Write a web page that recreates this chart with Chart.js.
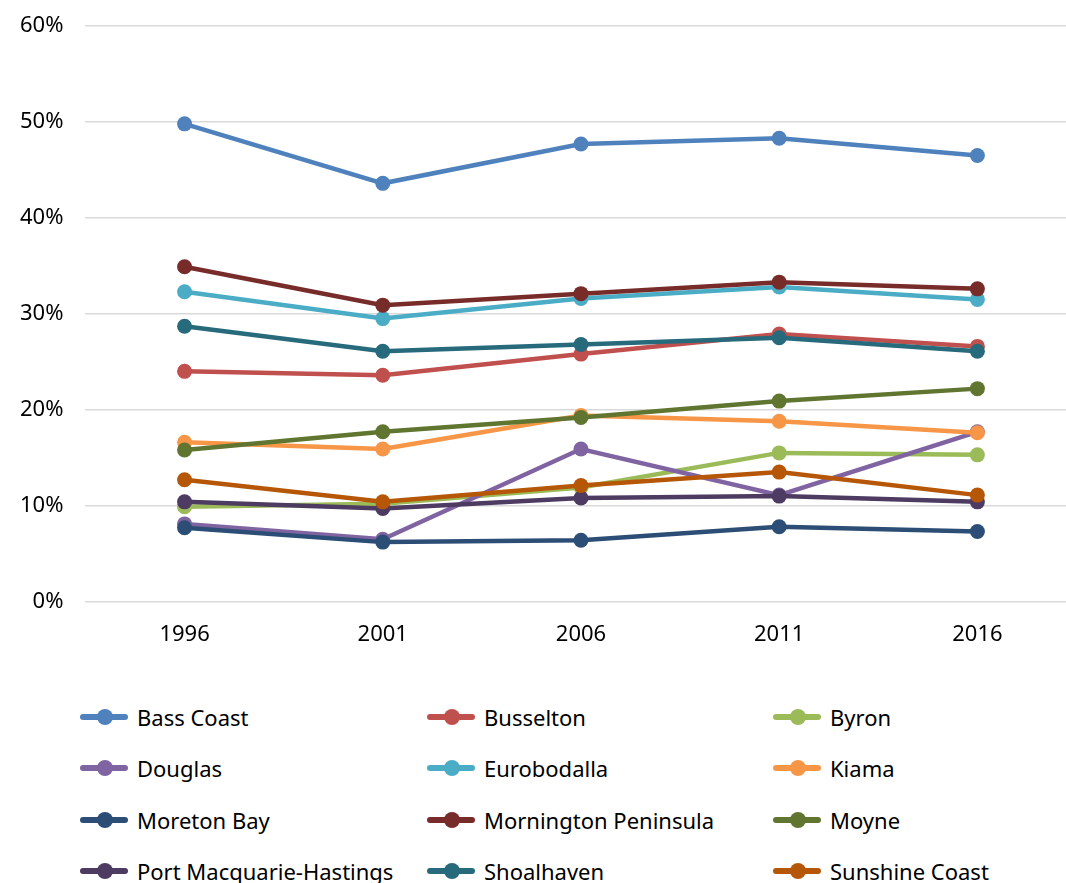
<!DOCTYPE html>
<html>
<head>
<meta charset="utf-8">
<script src="https://cdn.jsdelivr.net/npm/chart.js@4.4.1/dist/chart.umd.min.js"></script>
<style>
	html, body { margin: 0; padding: 0; background: #fff; overflow: hidden; }
	#wrap { position: relative; width: 1066px; height: 883px; overflow: hidden; }
	#chart-box { position: absolute; left: 0; top: 0; width: 1084px; height: 680px; }
	#legend { position: absolute; left: 80px; top: 702px; width: 1000px; font-family: "Noto Sans", sans-serif; font-size: 22px; color: #000; }
	.legend-item { position: absolute; height: 30px; line-height: 30px; white-space: nowrap; }
	.legend-item .swatch { position: absolute; left: 0; top: 12px; width: 48px; height: 6px; border-radius: 3px; }
	.legend-item .dot { position: absolute; left: 17px; top: 7px; width: 16px; height: 16px; border-radius: 50%; }
	.legend-item .label { position: absolute; left: 57px; top: 0; }
</style>
</head>
<body>
<div id="wrap">
	<!-- the original picture is cropped on the right, so the canvas runs past the page edge -->
	<div id="chart-box"><canvas id="lineChart" width="1084" height="680"></canvas></div>
	<div id="legend"></div>
</div>
<script>
var years = ["1996", "2001", "2006", "2011", "2016"];
var yTicks = [0, 0.1, 0.2, 0.3, 0.4, 0.5, 0.6];

var names = [
	"Bass Coast", "Busselton", "Byron",
	"Douglas", "Eurobodalla", "Kiama",
	"Moreton Bay", "Mornington Peninsula", "Moyne",
	"Port Macquarie-Hastings", "Shoalhaven", "Sunshine Coast"
];

var bassCoast = [0.498, 0.436, 0.477, 0.483, 0.465];
var busselton = [0.240, 0.236, 0.258, 0.279, 0.266];
var byron = [0.099, 0.102, 0.119, 0.155, 0.153];
var douglas = [0.081, 0.065, 0.159, 0.111, 0.177];
var eurobodalla = [0.323, 0.295, 0.316, 0.328, 0.315];
var kiama = [0.166, 0.159, 0.194, 0.188, 0.176];
var moretonBay = [0.077, 0.062, 0.064, 0.078, 0.073];
var mornington = [0.349, 0.309, 0.321, 0.333, 0.326];
var moyne = [0.158, 0.177, 0.192, 0.209, 0.222];
var portMacquarie = [0.104, 0.097, 0.108, 0.110, 0.104];
var shoalhaven = [0.287, 0.261, 0.268, 0.275, 0.261];
var sunshineCoast = [0.127, 0.104, 0.121, 0.135, 0.111];

var seriesValues = [
	bassCoast, busselton, byron,
	douglas, eurobodalla, kiama,
	moretonBay, mornington, moyne,
	portMacquarie, shoalhaven, sunshineCoast
];

var color = {
	blue: "#4F81BD",
	red: "#C0504D",
	green: "#9BBB59",
	purple: "#8064A2",
	aqua: "#4BACC6",
	orange: "#F79646",
	darkBlue: "#2C4D75",
	darkRed: "#772C2A",
	olive: "#5F7530",
	darkPurple: "#4D3B62",
	teal: "#276A7C",
	darkOrange: "#B65708",
	none: "rgba(0,0,0,0)"
};

var seriesColors = [
	color.blue, color.red, color.green,
	color.purple, color.aqua, color.orange,
	color.darkBlue, color.darkRed, color.olive,
	color.darkPurple, color.teal, color.darkOrange
];

var fontFamily = '"Noto Sans", sans-serif';

// Excel draws later series on top, so keep the same order
var datasets = [];
for (var i = 0; i < names.length; i++) {
	datasets.push({
		label: names[i],
		data: seriesValues[i],
		borderColor: seriesColors[i],
		backgroundColor: seriesColors[i],
		pointBackgroundColor: seriesColors[i],
		pointBorderColor: seriesColors[i],
		borderWidth: 4.5,
		pointRadius: 7.5,
		pointBorderWidth: 0,
		pointHoverRadius: 7.5,
		tension: 0,
		fill: false,
		order: names.length - i
	});
}

// tick padding also gets added to the outer margins, so the gap between
// labels and plot is made with invisible tick marks instead
var ctx = document.getElementById("lineChart").getContext("2d");
var lineChart = new Chart(ctx, {
	type: "line",
	data: {
		labels: years,
		datasets: datasets
	},
	options: {
		responsive: false,
		animation: false,
		maintainAspectRatio: false,
		layout: {
			padding: { top: 26, right: 2, bottom: 32, left: 20 }
		},
		plugins: {
			legend: { display: false },
			tooltip: { enabled: false }
		},
		scales: {
			x: {
				offset: true,
				grid: { color: color.none, tickColor: color.none, drawTicks: true, tickLength: 20 },
				border: { display: false },
				ticks: {
					padding: 0,
					color: "#000",
					font: { family: fontFamily, size: 22 }
				}
			},
			y: {
				min: 0,
				max: 0.6,
				afterBuildTicks: function (scale) {
					scale.ticks = yTicks.map(function (v) { return { value: v }; });
				},
				grid: { color: "#d9d9d9", lineWidth: 1.5, tickColor: color.none, drawTicks: true, tickLength: 22 },
				border: { display: false },
				ticks: {
					padding: 0,
					color: "#000",
					font: { family: fontFamily, size: 22 },
					callback: function (value) {
						return Math.round(value * 100) + "%";
					}
				}
			}
		}
	}
});

// legend in three columns, built from the same arrays
var legendBox = document.getElementById("legend");
var colX = [0, 347, 693];
var rowGap = 51.3;
for (var k = 0; k < names.length; k++) {
	var item = document.createElement("div");
	item.className = "legend-item";
	item.style.left = colX[k % 3] + "px";
	item.style.top = (Math.floor(k / 3) * rowGap) + "px";
	item.innerHTML =
		'<span class="swatch" style="background:' + seriesColors[k] + '"></span>' +
		'<span class="dot" style="background:' + seriesColors[k] + '"></span>' +
		'<span class="label">' + names[k] + "</span>";
	legendBox.appendChild(item);
}
</script>
</body>
</html>
